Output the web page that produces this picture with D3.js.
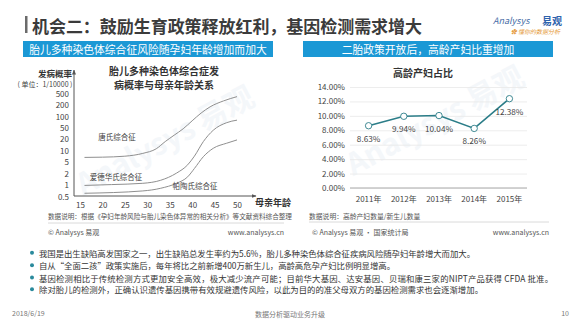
<!DOCTYPE html>
<html><head><meta charset="utf-8">
<script src="https://cdn.jsdelivr.net/npm/d3@7"></script>
<style>
html,body{margin:0;padding:0;background:#fff;}
svg{display:block;font-family:"Noto Sans CJK SC","Noto Sans",sans-serif;}
</style></head>
<body><svg id="c" width="580" height="326"></svg>
<script>
// ---------- data ----------
const pageTitle = "机会二：鼓励生育政策释放红利，基因检测需求增大";
const leftHeader = "胎儿多种染色体综合征风险随孕妇年龄增加而加大";
const rightHeader = "二胎政策开放后，高龄产妇比重增加";
const leftTitle = ["胎儿多种染色体综合症发", "病概率与母亲年龄关系"];
const rightTitle = "高龄产妇占比";

// left chart: incidence per 10000 vs maternal age
const yTicksLeft = [0.5, 1, 2, 5, 10, 20, 50, 100, 200, 500];
const xTicksLeft = [15, 20, 25, 30, 35, 40, 45, 50];
const downAges   = [16, 20, 25, 29, 32, 34, 36, 38, 40, 42, 44, 47, 50];
const downVals   = [6.5, 6.6, 7, 8.3, 11, 17, 27, 45, 75, 120, 175, 270, 380];
const edwardAges = [16, 22, 29, 33, 36.5, 39, 40.5, 42.5, 44.7, 47.7, 50];
const edwardVals = [0.95, 1.0, 1.08, 1.3, 2, 3.9, 7, 17, 40, 67, 78];
const patauAges  = [16, 29, 33, 36.5, 39, 40.5, 42.5, 44.7, 47.7, 50];
const patauVals  = [0.59, 0.68, 0.8, 1.08, 1.6, 2.9, 6.8, 11.3, 15.4, 18.8];
const curveNames = ["唐氏综合征", "爱德华氏综合征", "帕陶氏综合征"];

// right chart: share of advanced-age mothers
const years = ["2011年", "2012年", "2013年", "2014年", "2015年"];
const shares = [8.63, 9.94, 10.04, 8.26, 12.38];
const yTicksRight = [0, 2, 4, 6, 8, 10, 12, 14];

const bullets = [
  "我国是出生缺陷高发国家之一，出生缺陷总发生率约为5.6%，胎儿多种染色体综合征疾病风险随孕妇年龄增大而加大。",
  "自从“全面二孩”政策实施后，每年将比之前新增400万新生儿，高龄高危孕产妇比例明显增高。",
  "基因检测相比于传统检测方式更加安全高效，极大减少流产可能；目前华大基因、达安基因、贝瑞和康三家的NIPT产品获得  CFDA  批准。",
  "除对胎儿的检测外，正确认识遗传基因携带有效规避遗传风险，以此为目的的准父母双方的基因检测需求也会逐渐增加。"
];

// ---------- drawing ----------
const svg = d3.select("#c");
const CJK = '"Noto Sans CJK SC","Noto Sans",sans-serif';

// watermarks
svg.append("text").attr("transform","translate(170,150) rotate(-28)")
  .attr("text-anchor","middle").attr("font-size",30).attr("font-weight","bold")
  .attr("fill","#dbe6ef").attr("opacity",0.3).text("Analysys 易观");
svg.append("text").attr("transform","translate(440,130) rotate(-28)")
  .attr("text-anchor","middle").attr("font-size",30).attr("font-weight","bold")
  .attr("fill","#dbe6ef").attr("opacity",0.3).text("Analysys 易观");

// title
svg.append("rect").attr("x",25).attr("y",16).attr("width",2.5).attr("height",17).attr("fill","#6b6b6b");
svg.append("text").attr("x",32).attr("y",25).attr("dominant-baseline","central")
  .attr("font-size",17).attr("font-weight","bold").attr("fill","#3b3b3b")
  .attr("textLength",390).attr("lengthAdjust","spacing").text(pageTitle);

// logo
svg.append("text").attr("x",493).attr("y",20).attr("dominant-baseline","central")
  .attr("font-size",9).attr("font-style","italic").attr("fill","#4a6fa8").text("Analysys");
svg.append("text").attr("x",562).attr("y",20).attr("dominant-baseline","central").attr("text-anchor","end")
  .attr("font-size",10).attr("font-weight","bold").attr("fill","#2f63ad").text("易观");
svg.append("text").attr("x",560).attr("y",31).attr("dominant-baseline","central").attr("text-anchor","end")
  .attr("font-size",6).attr("font-style","italic").attr("fill","#e59a3a").text("✿ 懂你的数据分析");

// headers
const headers = [{x:23, t:leftHeader},{x:303, t:rightHeader}];
headers.forEach(h=>{
  svg.append("rect").attr("x",h.x).attr("y",41).attr("width",250).attr("height",16).attr("fill","#1b98d5");
  svg.append("text").attr("x",h.x+125).attr("y",49).attr("text-anchor","middle").attr("dominant-baseline","central")
    .attr("font-size",10.8).attr("fill","#fff").text(h.t);
});

// ---------- left chart ----------
const yLin = d3.scaleLinear().domain(yTicksLeft.map(Math.log))
  .range(yTicksLeft.map((d,i)=>196 - i*11.42));
const yL = v => yLin(Math.log(v));
const xL = d3.scaleLinear().domain([15,50]).range([80,237]);

const gL = svg.append("g");
leftTitle.forEach((t,i)=>{
  gL.append("text").attr("x",164).attr("y",70+i*14).attr("text-anchor","middle").attr("dominant-baseline","central")
    .attr("font-size",10).attr("font-weight","bold").attr("fill","#333").text(t);
});
gL.append("text").attr("x",55).attr("y",72.5).attr("text-anchor","middle").attr("dominant-baseline","central")
  .attr("font-size",8.5).attr("font-weight","bold").attr("fill","#333").text("发病概率");
gL.append("text").attr("x",45).attr("y",84).attr("text-anchor","middle").attr("dominant-baseline","central")
  .attr("font-size",7).attr("fill","#444").text("( 单位：1/10000 )");

// y axis labels via axis
const yAxisL = d3.axisLeft(yLin).tickValues(yTicksLeft.map(Math.log))
  .tickFormat((d,i)=>String(yTicksLeft[i])).tickSize(0).tickPadding(0);
const yAx = gL.append("g").attr("transform","translate(69,0.5)").call(yAxisL);
yAx.select(".domain").remove();
yAx.selectAll("text").attr("font-family",CJK).attr("font-size",8).attr("fill","#444");

const xAxisL = d3.axisBottom(xL).tickValues(xTicksLeft).tickSize(0).tickPadding(0);
const xAx = gL.append("g").attr("transform","translate(0,202)").call(xAxisL);
xAx.select(".domain").remove();
xAx.selectAll("text").attr("font-family",CJK).attr("font-size",8).attr("fill","#444");

// axis lines with arrows
const defs = svg.append("defs");
defs.append("marker").attr("id","arr").attr("viewBox","0 0 10 10").attr("refX",9).attr("refY",5)
  .attr("markerWidth",5).attr("markerHeight",5).attr("orient","auto")
  .append("path").attr("d","M0,1L10,5L0,9z").attr("fill","#555");
gL.append("line").attr("x1",74).attr("y1",196).attr("x2",74).attr("y2",70)
  .attr("stroke","#555").attr("stroke-width",1).attr("marker-end","url(#arr)");
gL.append("line").attr("x1",74).attr("y1",196).attr("x2",256).attr("y2",196)
  .attr("stroke","#555").attr("stroke-width",1).attr("marker-end","url(#arr)");
gL.append("text").attr("x",273).attr("y",202).attr("text-anchor","middle").attr("dominant-baseline","central")
  .attr("font-size",9).attr("font-weight","bold").attr("fill","#333").text("母亲年龄");

const lineL = d3.line().x(d=>xL(d[0])).y(d=>yL(d[1])).curve(d3.curveMonotoneX);
[[downAges,downVals],[edwardAges,edwardVals],[patauAges,patauVals]].forEach(([a,v])=>{
  gL.append("path").attr("d", lineL(a.map((x,i)=>[x,v[i]])))
    .attr("fill","none").attr("stroke","#8f8f8f").attr("stroke-width",1);
});
const labelPos = [[117,136],[116,176],[195,185]];
curveNames.forEach((n,i)=>{
  gL.append("text").attr("x",labelPos[i][0]).attr("y",labelPos[i][1]).attr("text-anchor","middle")
    .attr("dominant-baseline","central").attr("font-size",7.5).attr("fill","#444").text(n);
});

gL.append("text").attr("x",48).attr("y",216).attr("dominant-baseline","central")
  .attr("font-size",6.6).attr("fill","#555").text("数据说明：根据《孕妇年龄风险与胎儿染色体异常的相关分析》等文献资料综合整理");
gL.append("line").attr("x1",48).attr("x2",284).attr("y1",223).attr("y2",223).attr("stroke","#d0d0d0").attr("stroke-width",0.8);
gL.append("text").attr("x",48).attr("y",232).attr("dominant-baseline","central")
  .attr("font-size",7).attr("fill","#555").text("© Analysys 易观");
gL.append("text").attr("x",284).attr("y",232).attr("dominant-baseline","central").attr("text-anchor","end")
  .attr("font-size",7).attr("fill","#555").text("www.analysys.cn");

// ---------- right chart ----------
const gR = svg.append("g");
const yR = d3.scaleLinear().domain([0,14]).range([188,87]);
const xR = d3.scaleBand().domain(years).range([351,527]);
const cx = d => xR(d) + xR.bandwidth()/2;

gR.append("text").attr("x",423).attr("y",72).attr("text-anchor","middle").attr("dominant-baseline","central")
  .attr("font-size",10).attr("font-weight","bold").attr("fill","#333").text(rightTitle);

const grid = d3.axisLeft(yR).tickValues(yTicksRight).tickSize(-(527-350))
  .tickFormat(d=>d3.format(".2f")(d)+"%").tickPadding(5);
const gy = gR.append("g").attr("transform","translate(350,0)").call(grid);
gy.select(".domain").remove();
gy.selectAll("line").attr("stroke","#e8e8e8").attr("stroke-width",0.8);
gy.selectAll("text").attr("font-family",CJK).attr("font-size",8).attr("fill","#444");
gR.append("line").attr("x1",350).attr("x2",527).attr("y1",yR(0)).attr("y2",yR(0))
  .attr("stroke","#c4c4c4").attr("stroke-width",1.5);

const gx = gR.append("g").attr("transform","translate(0,196)").call(d3.axisBottom(xR).tickSize(0).tickPadding(0));
gx.select(".domain").remove();
gx.selectAll("text").attr("font-family",CJK).attr("font-size",8).attr("fill","#444");

const lineR = d3.line().x((d,i)=>cx(years[i])).y(d=>yR(d));
gR.append("path").attr("d",lineR(shares)).attr("fill","none").attr("stroke","#2b7d88").attr("stroke-width",1.6);
gR.selectAll("circle.p").data(shares).enter().append("circle")
  .attr("cx",(d,i)=>cx(years[i])).attr("cy",d=>yR(d)).attr("r",3.2)
  .attr("fill","#fff").attr("stroke","#2b7d88").attr("stroke-width",0.9);
gR.selectAll("text.v").data(shares).enter().append("text")
  .attr("x",(d,i)=>cx(years[i])).attr("y",d=>yR(d)+12).attr("text-anchor","middle")
  .attr("dominant-baseline","central").attr("font-size",8.2).attr("fill","#444")
  .text(d=>d3.format(".2f")(d)+"%");

gR.append("text").attr("x",309).attr("y",216).attr("dominant-baseline","central")
  .attr("font-size",6.8).attr("fill","#555").text("数据说明：高龄产妇数量/新生儿数量");
gR.append("line").attr("x1",309).attr("x2",549).attr("y1",222).attr("y2",222).attr("stroke","#d0d0d0").attr("stroke-width",0.8);
gR.append("text").attr("x",312).attr("y",232).attr("dominant-baseline","central")
  .attr("font-size",7).attr("fill","#555").text("© Analysys 易观 · 国家统计局");
gR.append("text").attr("x",549).attr("y",232).attr("dominant-baseline","central").attr("text-anchor","end")
  .attr("font-size",7).attr("fill","#555").text("www.analysys.cn");

// ---------- bullets ----------
const by = [252.7, 265.2, 277.6, 289.3];
const bulletEnds = [475, 395, 553, 483];
bullets.forEach((t,i)=>{
  svg.append("circle").attr("cx",32).attr("cy",by[i]).attr("r",2).attr("fill","#2a8a9c");
  svg.append("text").attr("x",39).attr("y",by[i]).attr("dominant-baseline","central")
    .attr("font-size",8.4).attr("fill","#333")
    .attr("textLength",bulletEnds[i]-39).attr("lengthAdjust","spacing").text(t);
});

// footer
svg.append("text").attr("x",12).attr("y",313).attr("dominant-baseline","central")
  .attr("font-size",7).attr("fill","#777").text("2018/6/19");
svg.append("text").attr("x",290).attr("y",314).attr("dominant-baseline","central").attr("text-anchor","middle")
  .attr("font-size",7).attr("fill","#777").text("数据分析驱动业务升级");
svg.append("text").attr("x",569).attr("y",313).attr("dominant-baseline","central").attr("text-anchor","end")
  .attr("font-size",7).attr("fill","#777").text("10");
</script></body></html>
